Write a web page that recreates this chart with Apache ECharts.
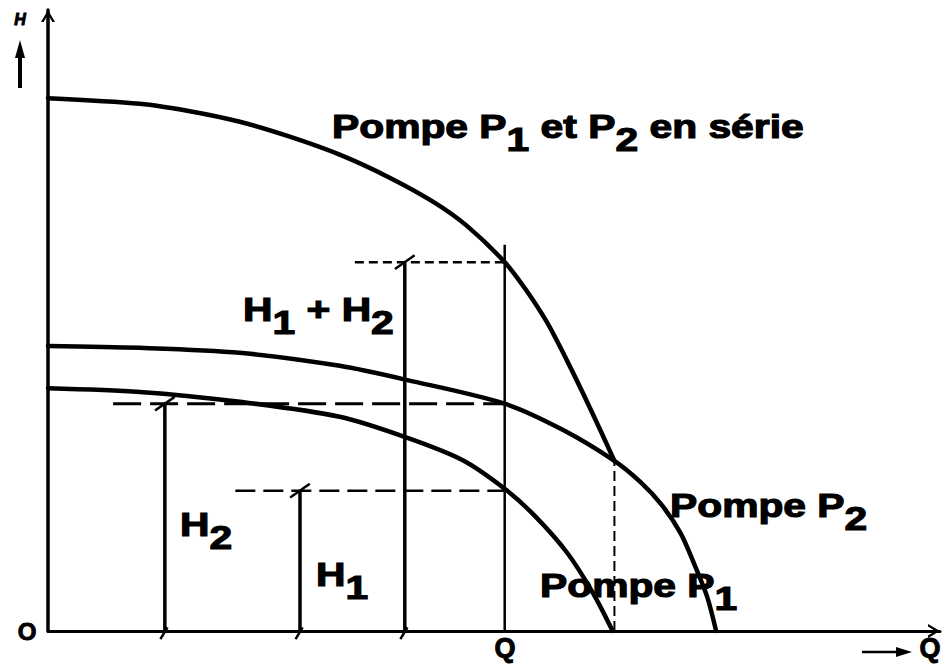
<!DOCTYPE html>
<html>
<head>
<meta charset="utf-8">
<title>Pompes en série</title>
<script src="https://cdn.jsdelivr.net/npm/echarts@6/dist/echarts.min.js"></script>
<style>
  html, body { margin: 0; padding: 0; background: #fff; }
  #chart { width: 947px; height: 665px; }
</style>
</head>
<body>
<div id="chart"></div>
<script>
// courbes caractéristiques (débit Q, hauteur H), unités arbitraires
const serieQ = [0, 10.3, 15.9, 21.5, 27.1, 32.7, 38.3, 43.2, 47.0, 51.2, 53.5, 55.9, 58.2, 60.8, 63.5]
const serieH = [85.8, 84.9, 83.7, 82.0, 79.6, 76.7, 73.0, 69.1, 65.2, 59.4, 55.1, 49.8, 43.5, 35.8, 27.4]

const p2Q = [0, 10.3, 21.5, 32.7, 40.3, 51.2, 57.7, 63.5, 66.4, 68.8, 70.9, 72.5, 73.9, 74.9]
const p2H = [45.9, 45.6, 44.8, 42.7, 40.4, 36.6, 32.4, 27.4, 24.0, 20.3, 15.8, 10.6, 5.5, 0]

const p1Q = [0, 10.3, 21.5, 32.7, 40.3, 46.5, 51.2, 54.6, 58.2, 61.1, 63.3]
const p1H = [39.1, 38.5, 36.9, 34.5, 31.1, 27.5, 22.9, 18.5, 12.6, 6.1, 0]

// point de fonctionnement et hauteurs lues
const qFonct = 51.2
const qFonctTop = 62.2
const qCroise = 63.5
const hCroise = 27.4
const h1 = 22.6
const h2 = 36.6
const h12 = 59.4

// barres de mesure (position en Q) et départ des tirets
const qBarH2 = 13.1
const qBarH1 = 28.25
const qBarH12 = 40.0
const qDashH2 = 7.3
const qDashH1 = 21.0
const qDashH12 = 34.4

const zip = (qs, hs) => qs.map((q, i) => [q, hs[i]])

const seg = (data, width, dash) => ({
  type: 'line',
  data: data,
  showSymbol: false,
  silent: true,
  clip: false,
  animation: false,
  smooth: false,
  lineStyle: { color: '#000', width: width, type: dash || 'solid', cap: 'butt' },
  z: 3
})

const curve = (data) => ({
  type: 'line',
  data: data,
  showSymbol: false,
  silent: true,
  clip: false,
  animation: false,
  smooth: 0.3,
  lineStyle: { color: '#000', width: 4.5, cap: 'round', join: 'round' },
  z: 4
})

// petites marques aux extrémités des barres
const tick = (q, h) => seg([[q - 1.1, h - 1.1], [q + 1.1, h + 1.1]], 2.5)
const foot = (q) => seg([[q + 0.3, 0.6], [q - 0.5, -1.3]], 2.5)

const chevron = 'path://M0,12 L7,0 L14,12 L11.4,12 L7,4.6 L2.6,12 Z'

const chart = echarts.init(document.getElementById('chart'), null, { renderer: 'svg' })

const sub = (fs) => ({ fontSize: fs, fontWeight: 'bold', fontFamily: 'Liberation Sans', fill: '#000', lineHeight: 16, verticalAlign: 'bottom' })
const main = (fs) => ({ fontSize: fs, fontWeight: 'bold', fontFamily: 'Liberation Sans', fill: '#000', lineHeight: 60 })

const label = (x, y, text, fs, sx) => ({
  type: 'text',
  x: x,
  y: y,
  scaleX: sx,
  silent: true,
  style: {
    text: text,
    align: 'left',
    verticalAlign: 'top',
    stroke: '#000',
    lineWidth: 1.2,
    rich: { m: main(fs), s: sub(fs) }
  }
})

const plain = (x, y, text, fs, extra) => ({
  type: 'text',
  x: x,
  y: y,
  silent: true,
  style: Object.assign({
    text: text,
    align: 'center',
    verticalAlign: 'middle',
    font: 'bold ' + fs + 'px "Liberation Sans"',
    fill: '#000',
    stroke: '#000',
    lineWidth: 1
  }, extra || {})
})

const option = {
  animation: false,
  backgroundColor: '#fff',
  grid: { left: 48, right: 7, top: 10, bottom: 34 },
  xAxis: {
    type: 'value',
    min: 0,
    max: 100,
    axisLine: {
      show: true,
      onZero: false,
      symbol: ['none', chevron],
      symbolSize: [14, 12],
      symbolOffset: [0, -6],
      lineStyle: { color: '#000', width: 3 }
    },
    axisTick: { show: false },
    axisLabel: { show: false },
    splitLine: { show: false }
  },
  yAxis: {
    type: 'value',
    min: 0,
    max: 100,
    axisLine: {
      show: true,
      onZero: false,
      symbol: ['none', chevron],
      symbolSize: [14, 12],
      symbolOffset: [0, -6],
      lineStyle: { color: '#000', width: 3.5 }
    },
    axisTick: { show: false },
    axisLabel: { show: false },
    splitLine: { show: false }
  },
  series: [
    curve(zip(serieQ, serieH)),
    curve(zip(p2Q, p2H)),
    curve(zip(p1Q, p1H)),
    // lignes pointillées horizontales
    seg([[qDashH12, h12], [qFonct, h12]], 2.5, [9, 5]),
    seg([[qDashH2, h2], [qFonct, h2]], 3, [28, 9]),
    seg([[qDashH1, h1], [qFonct, h1]], 2.5, [20, 8]),
    // verticale pointillée au croisement
    seg([[qCroise, 0], [qCroise, hCroise]], 2, [10, 5]),
    // verticale au débit Q
    seg([[qFonct, 0], [qFonct, qFonctTop]], 2.5),
    // barres de mesure
    seg([[qBarH2, 0], [qBarH2, h2]], 3.5),
    seg([[qBarH1, 0], [qBarH1, h1]], 3.5),
    seg([[qBarH12, 0], [qBarH12, h12]], 3.5),
    tick(qBarH2, h2),
    tick(qBarH1, h1),
    tick(qBarH12, h12),
    foot(qBarH2),
    foot(qBarH1),
    foot(qBarH12)
  ],
  graphic: [
    label(332, 96, '{m|Pompe P}{s|1}{m| et P}{s|2}{m| en série}', 34, 1.2),
    label(243, 279, '{m|H}{s|1}{m| + H}{s|2}', 34, 1.2),
    label(180, 494, '{m|H}{s|2}', 34, 1.2),
    label(316, 544, '{m|H}{s|1}', 34, 1.2),
    label(670, 475, '{m|Pompe P}{s|2}', 34, 1.2),
    label(540, 555, '{m|Pompe P}{s|1}', 34, 1.2),
    plain(27, 631, 'O', 24),
    plain(505, 648, 'Q', 27),
    plain(930, 648, 'Q', 27),
    plain(20, 19, 'H', 16, { font: 'italic bold 16px "Liberation Sans"' }),
    // flèche verticale sous H
    { type: 'line', silent: true, shape: { x1: 20, y1: 88, x2: 20, y2: 54 }, style: { stroke: '#000', lineWidth: 4 } },
    { type: 'polygon', silent: true, shape: { points: [[20, 40], [25, 58], [15, 58]] }, style: { fill: '#000' } },
    // flèche horizontale devant Q
    { type: 'line', silent: true, shape: { x1: 862, y1: 652, x2: 900, y2: 652 }, style: { stroke: '#000', lineWidth: 2.5 } },
    { type: 'polygon', silent: true, shape: { points: [[912, 652], [896, 647], [896, 657]] }, style: { fill: '#000' } }
  ]
}

chart.setOption(option)
</script>
</body>
</html>
